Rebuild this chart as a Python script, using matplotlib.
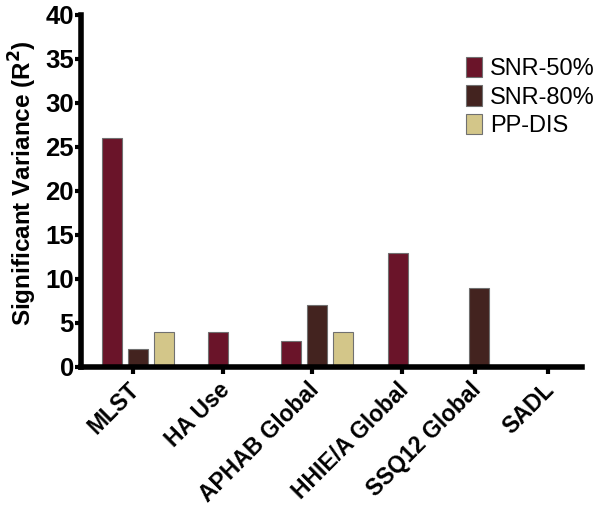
import matplotlib
matplotlib.use('Agg')
import matplotlib.pyplot as plt
import matplotlib.transforms as mtransforms
from matplotlib.patches import Patch

categories = ['MLST', 'HA Use', 'APHAB Global', 'HHIE/A Global', 'SSQ12 Global', 'SADL']
series_names = ['SNR-50%', 'SNR-80%', 'PP-DIS']
snr50 = [26, 4, 3, 13, 0, 0]
snr80 = [2, 0, 7, 0, 9, 0]
ppdis = [4, 0, 4, 0, 0, 0]
yticks = [0, 5, 10, 15, 20, 25, 30, 35, 40]

# layout (pixel-like x units, to mimic the uneven spacing of the original)
tick_x = [133, 223, 312, 402, 475, 548]
first_offset = [-21, -5, -21, -4, 4, 0]
bar_w, bar_step = 20, 26
colors = ['#6a1429', '#43231f', '#d3c689']

plt.rcParams['font.family'] = ['Liberation Sans', 'DejaVu Sans']

fig = plt.figure(figsize=(5.98, 5.09), dpi=100)
ax = fig.add_axes([81 / 598, 1 - 367 / 509, 501 / 598, 352 / 509])

series = [snr50, snr80, ppdis]
for g in range(len(categories)):
    x = tick_x[g] + first_offset[g]
    for s, vals in enumerate(series):
        if vals[g] > 0:
            ax.bar(x, vals[g], width=bar_w, color=colors[s], edgecolor='#707070', linewidth=0.8, zorder=2)
            x += bar_step

ax.set_xlim(81, 582)
ax.set_ylim(0, 40)
ax.set_yticks(yticks)
ax.set_xticks(tick_x)
ax.set_xticklabels(categories, rotation=45, ha='right', va='center', rotation_mode='anchor',
                   fontsize=16.5, fontweight='bold')
ax.set_yticklabels([str(t) for t in yticks], fontsize=18.5, fontweight='bold')
for sp in ['top', 'right']:
    ax.spines[sp].set_visible(False)
for sp in ['left', 'bottom']:
    ax.spines[sp].set_linewidth(4)
    ax.spines[sp].set_capstyle('projecting')
ax.tick_params(axis='y', direction='out', length=4, width=3, pad=1)
ax.tick_params(axis='x', direction='out', length=5, width=3, pad=9)
shift = mtransforms.ScaledTranslation(3 / 100, 0, fig.dpi_scale_trans)
for lbl in ax.get_xticklabels():
    lbl.set_transform(lbl.get_transform() + shift)

fig.text(23 / 598, 1 - 183 / 509, 'Significant Variance (R$^\\mathbf{2}$)', rotation=90,
         ha='center', va='center', fontsize=17.5, fontweight='bold')

handles = [Patch(facecolor=c, edgecolor='#707070', linewidth=0.8) for c in colors]
fig.legend(handles, series_names, loc='upper left', bbox_to_anchor=(466 / 598, 1 - 57 / 509),
           frameon=False, fontsize=17, handlelength=0.68, handleheight=0.94,
           handletextpad=0.35, labelspacing=0.22, borderpad=0, borderaxespad=0)

fig.savefig('out.png', dpi=100)
